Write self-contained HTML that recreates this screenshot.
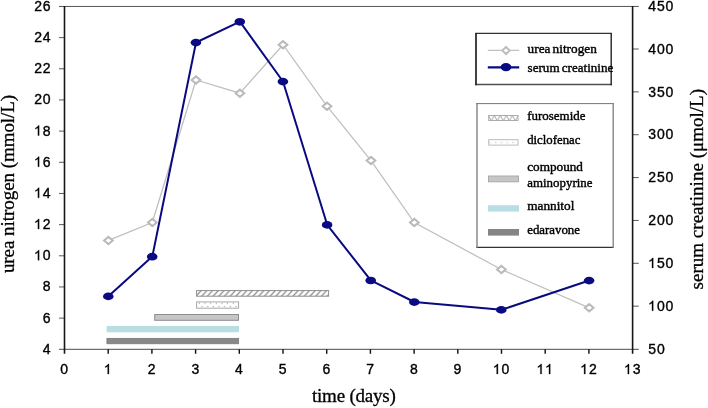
<!DOCTYPE html>
<html><head><meta charset="utf-8"><title>chart</title>
<style>
html,body{margin:0;padding:0;background:#fff;}
body{width:708px;height:408px;overflow:hidden;}
svg{display:block;will-change:transform;}
.t{font-family:"Liberation Sans",sans-serif;font-size:14px;letter-spacing:0;fill:#000;stroke:#000;stroke-width:0.36px;}
.s{font-family:"Liberation Serif",serif;font-size:13px;fill:#000;stroke:#000;stroke-width:0.4px;word-spacing:-1.1px;}
.a{font-family:"Liberation Serif",serif;font-size:19px;fill:#000;stroke:#000;stroke-width:0.3px;}
</style></head><body>
<svg width="708" height="408" viewBox="0 0 708 408">
<defs>
<pattern id="hatch" x="196.1" y="290.1" width="5.7" height="6.4" patternUnits="userSpaceOnUse">
<rect width="5.7" height="6.4" fill="#fff"/><path d="M-7 7.4 L0.8 -1 M-1.3 7.4 L6.5 -1 M4.4 7.4 L12.2 -1" stroke="#888" stroke-width="1.2" fill="none"/>
</pattern>
<pattern id="dots" x="196.1" y="301.4" width="5.65" height="7.3" patternUnits="userSpaceOnUse">
<rect width="5.65" height="7.3" fill="#fff"/><rect x="2.7" y="1.5" width="1.1" height="1.1" fill="#999"/><rect x="5.4" y="4.6" width="1.1" height="1.1" fill="#999"/><rect x="-0.25" y="4.6" width="1.1" height="1.1" fill="#999"/>
</pattern>
<pattern id="zig" x="488.3" y="115.2" width="6.02" height="6" patternUnits="userSpaceOnUse">
<rect width="6.02" height="6" fill="#fff"/><path d="M0 0 L3.01 5.6 L6.02 0" fill="none" stroke="#a4a4a4" stroke-width="0.9"/>
</pattern>
<pattern id="dots2" x="488.3" y="139.3" width="5.7" height="7" patternUnits="userSpaceOnUse">
<rect width="5.7" height="7" fill="#fff"/><rect x="1.3" y="2.7" width="1" height="1" fill="#a8a8a8"/>
</pattern>
</defs>
<rect width="708" height="408" fill="#fff"/>

<path d="M59.0 6.45 H638.8000000000001" stroke="#545454" stroke-width="1" fill="none"/>
<path d="M59.0 349.3 H638.8000000000001" stroke="#4a4a4a" stroke-width="1" fill="none"/>
<g stroke="#5a5a5a" stroke-width="1" fill="none">
<path d="M59.0 318.13 H64.5"/>
<path d="M59.0 286.96 H64.5"/>
<path d="M59.0 255.80 H64.5"/>
<path d="M59.0 224.63 H64.5"/>
<path d="M59.0 193.46 H64.5"/>
<path d="M59.0 162.29 H64.5"/>
<path d="M59.0 131.12 H64.5"/>
<path d="M59.0 99.95 H64.5"/>
<path d="M59.0 68.79 H64.5"/>
<path d="M59.0 37.62 H64.5"/>
<path d="M632.6 306.14 H638.8000000000001"/>
<path d="M632.6 263.29 H638.8000000000001"/>
<path d="M632.6 220.43 H638.8000000000001"/>
<path d="M632.6 177.57 H638.8000000000001"/>
<path d="M632.6 134.72 H638.8000000000001"/>
<path d="M632.6 91.86 H638.8000000000001"/>
<path d="M632.6 49.01 H638.8000000000001"/>
</g>
<g stroke="#161616" stroke-width="1.6" fill="none">
<path d="M64.5 5.95 V353.8"/>
<path d="M632.6 5.95 V353.8"/>
</g>
<g stroke="#141414" stroke-width="1.45" fill="none">
<path d="M108.20 349.3 V353.8"/>
<path d="M151.90 349.3 V353.8"/>
<path d="M195.60 349.3 V353.8"/>
<path d="M239.30 349.3 V353.8"/>
<path d="M283.00 349.3 V353.8"/>
<path d="M326.70 349.3 V353.8"/>
<path d="M370.40 349.3 V353.8"/>
<path d="M414.10 349.3 V353.8"/>
<path d="M457.80 349.3 V353.8"/>
<path d="M501.50 349.3 V353.8"/>
<path d="M545.20 349.3 V353.8"/>
<path d="M588.90 349.3 V353.8"/>
</g>
<text class="t" x="42.81" y="353.70">4</text>
<text class="t" x="42.81" y="322.53">6</text>
<text class="t" x="42.81" y="291.36">8</text>
<path d="M39.14 260.20 L37.91 260.20 L37.91 252.35 Q37.47 252.78 36.75 253.20 Q36.03 253.63 35.45 253.84 L35.45 252.65 Q36.48 252.16 37.26 251.47 Q38.03 250.78 38.35 250.13 L39.14 250.13 Z" fill="#000" stroke="#000" stroke-width="0.3"/>
<text class="t" x="42.81" y="260.20">0</text>
<path d="M39.14 229.03 L37.91 229.03 L37.91 221.19 Q37.47 221.61 36.75 222.03 Q36.03 222.46 35.45 222.67 L35.45 221.48 Q36.48 221.00 37.26 220.30 Q38.03 219.61 38.35 218.96 L39.14 218.96 Z" fill="#000" stroke="#000" stroke-width="0.3"/>
<text class="t" x="42.81" y="229.03">2</text>
<path d="M39.14 197.86 L37.91 197.86 L37.91 190.02 Q37.47 190.44 36.75 190.87 Q36.03 191.29 35.45 191.50 L35.45 190.31 Q36.48 189.83 37.26 189.14 Q38.03 188.45 38.35 187.80 L39.14 187.80 Z" fill="#000" stroke="#000" stroke-width="0.3"/>
<text class="t" x="42.81" y="197.86">4</text>
<path d="M39.14 166.69 L37.91 166.69 L37.91 158.85 Q37.47 159.27 36.75 159.70 Q36.03 160.12 35.45 160.33 L35.45 159.14 Q36.48 158.66 37.26 157.97 Q38.03 157.28 38.35 156.63 L39.14 156.63 Z" fill="#000" stroke="#000" stroke-width="0.3"/>
<text class="t" x="42.81" y="166.69">6</text>
<path d="M39.14 135.52 L37.91 135.52 L37.91 127.68 Q37.47 128.11 36.75 128.53 Q36.03 128.95 35.45 129.17 L35.45 127.98 Q36.48 127.49 37.26 126.80 Q38.03 126.11 38.35 125.46 L39.14 125.46 Z" fill="#000" stroke="#000" stroke-width="0.3"/>
<text class="t" x="42.81" y="135.52">8</text>
<text class="t" x="34.23 42.81" y="104.35">20</text>
<text class="t" x="34.23 42.81" y="73.19">22</text>
<text class="t" x="34.23 42.81" y="42.02">24</text>
<text class="t" x="34.23 42.81" y="10.85">26</text>
<text class="t" x="648.30 656.89" y="353.70">50</text>
<path d="M653.22 310.84 L651.99 310.84 L651.99 303.00 Q651.54 303.43 650.82 303.85 Q650.10 304.27 649.52 304.49 L649.52 303.30 Q650.56 302.81 651.33 302.12 Q652.10 301.43 652.42 300.78 L653.22 300.78 Z" fill="#000" stroke="#000" stroke-width="0.3"/>
<text class="t" x="656.89 665.47" y="310.84">00</text>
<path d="M653.22 267.99 L651.99 267.99 L651.99 260.15 Q651.54 260.57 650.82 260.99 Q650.10 261.42 649.52 261.63 L649.52 260.44 Q650.56 259.96 651.33 259.26 Q652.10 258.57 652.42 257.92 L653.22 257.92 Z" fill="#000" stroke="#000" stroke-width="0.3"/>
<text class="t" x="656.89 665.47" y="267.99">50</text>
<text class="t" x="648.30 656.89 665.47" y="225.13">200</text>
<text class="t" x="648.30 656.89 665.47" y="182.28">250</text>
<text class="t" x="648.30 656.89 665.47" y="139.42">300</text>
<text class="t" x="648.30 656.89 665.47" y="96.56">350</text>
<text class="t" x="648.30 656.89 665.47" y="53.71">400</text>
<text class="t" x="648.30 656.89 665.47" y="10.85">450</text>
<text class="t" x="60.31" y="374.00">0</text>
<path d="M108.92 374.00 L107.69 374.00 L107.69 366.16 Q107.25 366.58 106.53 367.01 Q105.81 367.43 105.23 367.64 L105.23 366.45 Q106.26 365.97 107.04 365.28 Q107.81 364.59 108.13 363.94 L108.92 363.94 Z" fill="#000" stroke="#000" stroke-width="0.3"/>
<text class="t" x="147.71" y="374.00">2</text>
<text class="t" x="191.41" y="374.00">3</text>
<text class="t" x="235.11" y="374.00">4</text>
<text class="t" x="278.81" y="374.00">5</text>
<text class="t" x="322.51" y="374.00">6</text>
<text class="t" x="366.21" y="374.00">7</text>
<text class="t" x="409.91" y="374.00">8</text>
<text class="t" x="453.61" y="374.00">9</text>
<path d="M497.93 374.00 L496.70 374.00 L496.70 366.16 Q496.25 366.58 495.53 367.01 Q494.81 367.43 494.24 367.64 L494.24 366.45 Q495.27 365.97 496.04 365.28 Q496.82 364.59 497.14 363.94 L497.93 363.94 Z" fill="#000" stroke="#000" stroke-width="0.3"/>
<text class="t" x="501.60" y="374.00">0</text>
<path d="M541.63 374.00 L540.40 374.00 L540.40 366.16 Q539.95 366.58 539.23 367.01 Q538.51 367.43 537.94 367.64 L537.94 366.45 Q538.97 365.97 539.74 365.28 Q540.52 364.59 540.84 363.94 L541.63 363.94 Z" fill="#000" stroke="#000" stroke-width="0.3"/>
<path d="M550.22 374.00 L548.99 374.00 L548.99 366.16 Q548.54 366.58 547.82 367.01 Q547.10 367.43 546.52 367.64 L546.52 366.45 Q547.56 365.97 548.33 365.28 Q549.10 364.59 549.42 363.94 L550.22 363.94 Z" fill="#000" stroke="#000" stroke-width="0.3"/>
<path d="M585.33 374.00 L584.10 374.00 L584.10 366.16 Q583.65 366.58 582.93 367.01 Q582.21 367.43 581.64 367.64 L581.64 366.45 Q582.67 365.97 583.44 365.28 Q584.22 364.59 584.54 363.94 L585.33 363.94 Z" fill="#000" stroke="#000" stroke-width="0.3"/>
<text class="t" x="589.00" y="374.00">2</text>
<path d="M629.03 374.00 L627.80 374.00 L627.80 366.16 Q627.35 366.58 626.63 367.01 Q625.91 367.43 625.34 367.64 L625.34 366.45 Q626.37 365.97 627.14 365.28 Q627.92 364.59 628.24 363.94 L629.03 363.94 Z" fill="#000" stroke="#000" stroke-width="0.3"/>
<text class="t" x="632.70" y="374.00">3</text>
<text class="a" x="311.9" y="401.9" textLength="84" lengthAdjust="spacing">time (days)</text>
<text class="a" transform="translate(13.8 273.1) rotate(-90)" textLength="178.3" lengthAdjust="spacing">urea nitrogen (mmol/L)</text>
<text class="a" transform="translate(702.7 289.4) rotate(-90)" textLength="200.4" lengthAdjust="spacing">serum creatinine (μmol/L)</text>
<rect x="196.6" y="290.6" width="132" height="5.6" fill="url(#hatch)" stroke="#8e8e8e" stroke-width="1"/>
<rect x="196.6" y="301.9" width="42" height="6.3" fill="url(#dots)" stroke="#a8a8a8" stroke-width="1"/>
<rect x="154.7" y="314.5" width="83.8" height="5.8" fill="#c6c6c6" stroke="#8e8e8e" stroke-width="1"/>
<rect x="106.6" y="326" width="132.4" height="6.3" fill="#b7dfe3"/>
<rect x="106.9" y="338.3" width="131.8" height="5.5" fill="#888" stroke="#767676" stroke-width="0.7"/>
<polyline points="108.4,240.4 152.3,222.5 196,80 239.9,93.2 283,44.7 327,106.2 371,160.6 414.3,222.6 501.4,269.5 589.2,307.8" fill="none" stroke="#c0c0c0" stroke-width="1.3"/>
<polyline points="108.4,296.3 152.3,256.6 196,42.5 239.9,21.7 283,81.5 327.2,224.8 370.8,280.4 414.4,302 501.4,309.8 589.2,280.5" fill="none" stroke="#0a0a80" stroke-width="2.0" stroke-linejoin="round"/>
<path d="M102.5 240.4 L108.4 235.4 L114.30000000000001 240.4 L108.4 245.4 Z M105.7 240.4 L108.4 242.4 L111.10000000000001 240.4 L108.4 238.4 Z" fill="#bababa" fill-rule="evenodd"/>
<path d="M105.7 240.4 L108.4 242.4 L111.10000000000001 240.4 L108.4 238.4 Z" fill="#fff"/>
<path d="M146.4 222.5 L152.3 217.5 L158.20000000000002 222.5 L152.3 227.5 Z M149.60000000000002 222.5 L152.3 224.5 L155.0 222.5 L152.3 220.5 Z" fill="#bababa" fill-rule="evenodd"/>
<path d="M149.60000000000002 222.5 L152.3 224.5 L155.0 222.5 L152.3 220.5 Z" fill="#fff"/>
<path d="M190.1 80 L196 75.0 L201.9 80 L196 85.0 Z M193.3 80 L196 82.0 L198.7 80 L196 78.0 Z" fill="#bababa" fill-rule="evenodd"/>
<path d="M193.3 80 L196 82.0 L198.7 80 L196 78.0 Z" fill="#fff"/>
<path d="M234.0 93.2 L239.9 88.2 L245.8 93.2 L239.9 98.2 Z M237.20000000000002 93.2 L239.9 95.2 L242.6 93.2 L239.9 91.2 Z" fill="#bababa" fill-rule="evenodd"/>
<path d="M237.20000000000002 93.2 L239.9 95.2 L242.6 93.2 L239.9 91.2 Z" fill="#fff"/>
<path d="M277.1 44.7 L283 39.7 L288.9 44.7 L283 49.7 Z M280.3 44.7 L283 46.7 L285.7 44.7 L283 42.7 Z" fill="#bababa" fill-rule="evenodd"/>
<path d="M280.3 44.7 L283 46.7 L285.7 44.7 L283 42.7 Z" fill="#fff"/>
<path d="M321.1 106.2 L327 101.2 L332.9 106.2 L327 111.2 Z M324.3 106.2 L327 108.2 L329.7 106.2 L327 104.2 Z" fill="#bababa" fill-rule="evenodd"/>
<path d="M324.3 106.2 L327 108.2 L329.7 106.2 L327 104.2 Z" fill="#fff"/>
<path d="M365.1 160.6 L371 155.6 L376.9 160.6 L371 165.6 Z M368.3 160.6 L371 162.6 L373.7 160.6 L371 158.6 Z" fill="#bababa" fill-rule="evenodd"/>
<path d="M368.3 160.6 L371 162.6 L373.7 160.6 L371 158.6 Z" fill="#fff"/>
<path d="M408.40000000000003 222.6 L414.3 217.6 L420.2 222.6 L414.3 227.6 Z M411.6 222.6 L414.3 224.6 L417.0 222.6 L414.3 220.6 Z" fill="#bababa" fill-rule="evenodd"/>
<path d="M411.6 222.6 L414.3 224.6 L417.0 222.6 L414.3 220.6 Z" fill="#fff"/>
<path d="M495.5 269.5 L501.4 264.5 L507.29999999999995 269.5 L501.4 274.5 Z M498.7 269.5 L501.4 271.5 L504.09999999999997 269.5 L501.4 267.5 Z" fill="#bababa" fill-rule="evenodd"/>
<path d="M498.7 269.5 L501.4 271.5 L504.09999999999997 269.5 L501.4 267.5 Z" fill="#fff"/>
<path d="M583.3000000000001 307.8 L589.2 302.8 L595.1 307.8 L589.2 312.8 Z M586.5 307.8 L589.2 309.8 L591.9000000000001 307.8 L589.2 305.8 Z" fill="#bababa" fill-rule="evenodd"/>
<path d="M586.5 307.8 L589.2 309.8 L591.9000000000001 307.8 L589.2 305.8 Z" fill="#fff"/>
<ellipse cx="108.30000000000001" cy="296.40000000000003" rx="5.3" ry="3.85" fill="#0a0a82"/>
<ellipse cx="152.20000000000002" cy="256.70000000000005" rx="5.3" ry="3.85" fill="#0a0a82"/>
<ellipse cx="195.9" cy="42.6" rx="5.3" ry="3.85" fill="#0a0a82"/>
<ellipse cx="239.8" cy="21.8" rx="5.3" ry="3.85" fill="#0a0a82"/>
<ellipse cx="282.9" cy="81.6" rx="5.3" ry="3.85" fill="#0a0a82"/>
<ellipse cx="327.09999999999997" cy="224.9" rx="5.3" ry="3.85" fill="#0a0a82"/>
<ellipse cx="370.7" cy="280.5" rx="5.3" ry="3.85" fill="#0a0a82"/>
<ellipse cx="414.29999999999995" cy="302.1" rx="5.3" ry="3.85" fill="#0a0a82"/>
<ellipse cx="501.29999999999995" cy="309.90000000000003" rx="5.3" ry="3.85" fill="#0a0a82"/>
<ellipse cx="589.1" cy="280.6" rx="5.3" ry="3.85" fill="#0a0a82"/>
<rect x="476" y="33.4" width="135.2" height="51.2" fill="#fff"/>
<path d="M475.2 33.4 H611.9" stroke="#333" stroke-width="1.1"/>
<path d="M475.2 84.6 H611.9" stroke="#505050" stroke-width="1.5"/>
<path d="M476 32.9 V85.3" stroke="#222" stroke-width="1.7"/>
<path d="M611.2 32.9 V85.3" stroke="#222" stroke-width="1.4"/>
<path d="M487.8 50.3 H519.2" stroke="#c2c2c2" stroke-width="1.3"/>
<path d="M501.0 50.6 L506 45.6 L511.0 50.6 L506 55.6 Z" fill="#bcbcbc"/>
<path d="M503.5 50.6 L506 52.6 L508.5 50.6 L506 48.6 Z" fill="#fff"/>
<path d="M487.8 67.4 H519.2" stroke="#0a0a82" stroke-width="2.2"/>
<ellipse cx="506" cy="67.2" rx="5.4" ry="4.1" fill="#0a0a82"/>
<text class="s" x="527.6" y="52.9" textLength="69.2" lengthAdjust="spacingAndGlyphs">urea nitrogen</text>
<text class="s" x="527.6" y="72.0" textLength="85.7" lengthAdjust="spacingAndGlyphs">serum creatinine</text>
<rect x="477" y="103.6" width="136.2" height="143.8" fill="#fff"/>
<path d="M476.4 103.6 H613.9" stroke="#777" stroke-width="1"/>
<path d="M476.4 247.4 H613.9" stroke="#333" stroke-width="1.1"/>
<path d="M477 103.1 V247.9" stroke="#777" stroke-width="1.3"/>
<path d="M613.2 103.1 V247.9" stroke="#858585" stroke-width="1.4"/>
<rect x="488.7" y="115.5" width="29.3" height="5" fill="url(#zig)" stroke="#a4a4a4" stroke-width="0.9"/>
<rect x="488.7" y="139.7" width="29.3" height="5.4" fill="url(#dots2)" stroke="#b4b4b4" stroke-width="0.9"/>
<rect x="488.5" y="176" width="30" height="5.8" fill="#c6c6c6" stroke="#aaa" stroke-width="1"/>
<rect x="488" y="205.2" width="31" height="6.4" fill="#b7dfe3"/>
<rect x="488" y="229" width="31" height="6.6" fill="#858585"/>
<text class="s" x="527.2" y="119.9" textLength="58.3" lengthAdjust="spacingAndGlyphs">furosemide</text>
<text class="s" x="527.2" y="144.3" textLength="53.2" lengthAdjust="spacingAndGlyphs">diclofenac</text>
<text class="s" x="527.2" y="170.7" textLength="55.8" lengthAdjust="spacingAndGlyphs">compound</text>
<text class="s" x="527.2" y="186.8" textLength="65.3" lengthAdjust="spacingAndGlyphs">aminopyrine</text>
<text class="s" x="527.2" y="210.4" textLength="47.2" lengthAdjust="spacingAndGlyphs">mannitol</text>
<text class="s" x="527.2" y="233.8" textLength="52.8" lengthAdjust="spacingAndGlyphs">edaravone</text>
</svg></body></html>
